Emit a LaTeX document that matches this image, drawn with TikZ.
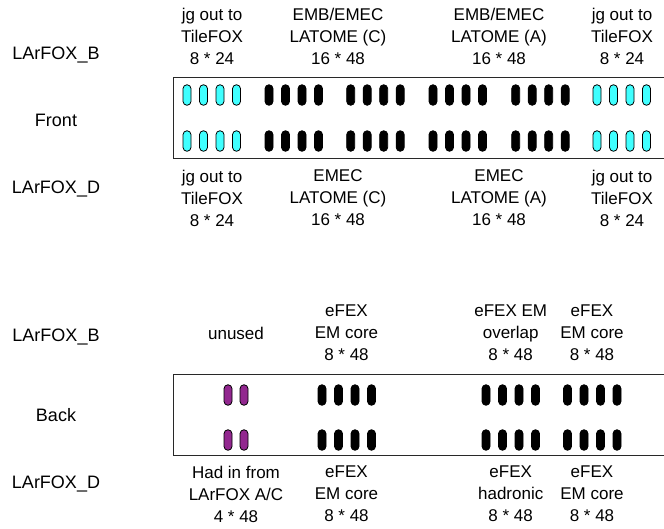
\documentclass[tikz,border=0pt]{standalone}
\usepackage{fontspec}
\setmainfont{Liberation Sans}
\definecolor{pillcyan}{RGB}{64,255,255}
\definecolor{pillpurple}{RGB}{146,39,143}
\definecolor{boxline}{RGB}{40,40,40}
\begin{document}
\begin{tikzpicture}[x=1pt,y=-1pt,
  lbl/.style={font=\fontsize{17}{22}\selectfont, align=center, inner sep=0pt},
  side/.style={font=\fontsize{18}{22}\selectfont, inner sep=0pt},
  pill/.style={draw=black, line width=0.8pt, rounded corners=3.9pt, minimum width=8pt, minimum height=20.5pt, inner sep=0pt},
  panel/.style={draw=boxline, line width=1.3pt}]
\useasboundingbox (0,0) rectangle (664,528);
\fill[white] (0,0) rectangle (664,528);

% ---------- Front ----------
\node[panel, minimum width=500pt, minimum height=81pt, anchor=north west, inner sep=0pt] (frontbox) at (172.5,77) {};
\foreach \g/\gx/\col in {1/187/pillcyan,2/269/black,3/350.7/black,4/433/black,5/515.7/black,6/597/pillcyan}{
  \foreach \i in {0,1,2,3}{
    \node[pill, fill=\col] (fa\g\i) at ({\gx+16.5*\i},95) {};
    \node[pill, fill=\col] (fb\g\i) at ({\gx+16.5*\i},141) {};
  }
}
\node[side] (lfb) at (56,55) {LArFOX\_B};
\node[side] (front) at (56,120) {Front};
\node[side] (lfd) at (56,189) {LArFOX\_D};

\node[lbl] (ft1) at (212,36) {jg out to\\TileFOX\\8 * 24};
\node[lbl] (ft2) at (338,36) {EMB/EMEC\\LATOME (C)\\16 * 48};
\node[lbl] (ft3) at (499,36) {EMB/EMEC\\LATOME (A)\\16 * 48};
\node[lbl] (ft4) at (622,36) {jg out to\\TileFOX\\8 * 24};

\node[lbl] (fd1) at (212,198) {jg out to\\TileFOX\\8 * 24};
\node[lbl] (fd2) at (338,198) {EMEC\\LATOME (C)\\16 * 48};
\node[lbl] (fd3) at (499,198) {EMEC\\LATOME (A)\\16 * 48};
\node[lbl] (fd4) at (622,198) {jg out to\\TileFOX\\8 * 24};

% ---------- Back ----------
\node[panel, minimum width=500pt, minimum height=81pt, anchor=north west, inner sep=0pt] (backbox) at (172.5,374) {};
\foreach \i/\x in {0/228,1/244}{
  \node[pill, fill=pillpurple] (ua\i) at (\x,395) {};
  \node[pill, fill=pillpurple] (ub\i) at (\x,440) {};
}
\foreach \g/\gx in {1/322,2/486,3/567.5}{
  \foreach \i in {0,1,2,3}{
    \node[pill, fill=black] (ba\g\i) at ({\gx+16.5*\i},395) {};
    \node[pill, fill=black] (bb\g\i) at ({\gx+16.5*\i},440) {};
  }
}
\node[side] (blfb) at (56,337) {LArFOX\_B};
\node[side] (back) at (56,415) {Back};
\node[side] (blfd) at (56,484) {LArFOX\_D};

\node[lbl] (bt1) at (236,333) {unused};
\node[lbl] (bt2) at (346.5,333) {eFEX\\EM core\\8 * 48};
\node[lbl] (bt3) at (510.7,333) {eFEX EM\\overlap\\8 * 48};
\node[lbl] (bt4) at (592,333) {eFEX\\EM core\\8 * 48};

\node[lbl] (bd1) at (236,494) {Had in from\\LArFOX A/C\\4 * 48};
\node[lbl] (bd2) at (346.5,494) {eFEX\\EM core\\8 * 48};
\node[lbl] (bd3) at (510.7,494) {eFEX\\hadronic\\8 * 48};
\node[lbl] (bd4) at (592,494) {eFEX\\EM core\\8 * 48};
\end{tikzpicture}
\end{document}
